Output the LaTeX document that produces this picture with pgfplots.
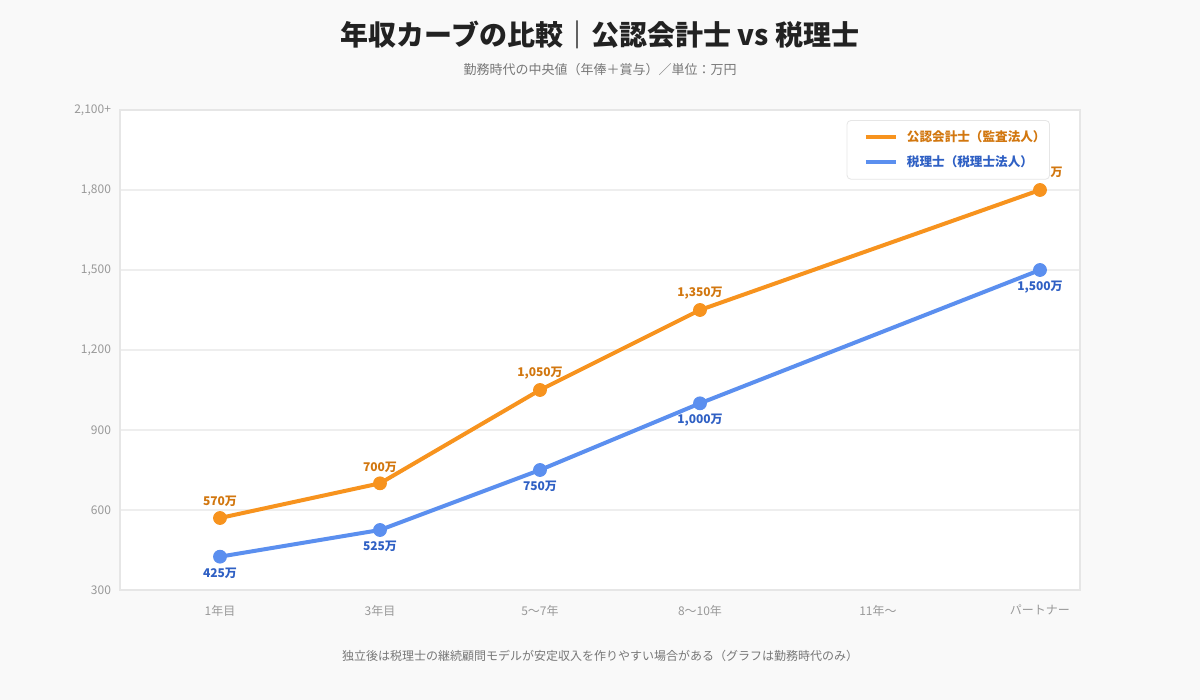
\documentclass[border=0pt]{standalone}
\usepackage{fontspec}
\setmainfont{Noto Sans CJK JP}
\usepackage{pgfplots}
\pgfplotsset{compat=1.18}

\definecolor{bgc}{HTML}{F9F9F9}
\definecolor{titlec}{HTML}{222222}
\definecolor{subc}{HTML}{777777}
\definecolor{tickc}{HTML}{999999}
\definecolor{gridc}{HTML}{EEEEEE}
\definecolor{framec}{HTML}{E6E6E6}
\definecolor{cpaline}{HTML}{F7931E}
\definecolor{cpatext}{HTML}{D2770F}
\definecolor{taxline}{HTML}{5B8FEF}
\definecolor{taxtext}{HTML}{2F60C4}

% x positions: 0=1年目, 1=3年目, 2=5〜7年, 3=8〜10年, 4.1125=11年〜, 5.125=パートナー
\pgfplotstableread{
x y
0 570
1 700
2 1050
3 1350
5.125 1800
}\cpadata
\pgfplotstableread{
x y
0 425
1 525
2 750
3 1000
5.125 1500
}\taxdata

\begin{document}
\begin{tikzpicture}
\fill[bgc] (0,0) rectangle (600pt,350pt);
\node[font=\bfseries\fontsize{14}{16}\selectfont, text=titlec] at (300pt,332.5pt)
  {年収カーブの比較｜公認会計士 vs 税理士};
\node[font=\fontsize{6.5}{8}\selectfont, text=subc] at (300pt,315pt)
  {勤務時代の中央値（年俸＋賞与）／単位：万円};
\node[font=\fontsize{6}{7}\selectfont, text=subc] at (300pt,22pt)
  {独立後は税理士の継続顧問モデルが安定収入を作りやすい場合がある（グラフは勤務時代のみ）};

\begin{axis}[
  at={(60pt,55pt)}, anchor=south west,
  scale only axis, width=480pt, height=240pt,
  xmin=-0.625, xmax=5.375, ymin=300, ymax=2100,
  axis background/.style={fill=white},
  xtick={0,1,2,3,4.1125,5.125},
  xticklabels={1年目,3年目,5〜7年,8〜10年,11年〜,パートナー},
  ytick={300,600,900,1200,1500,1800,2100},
  yticklabels={300,600,900,{1,200},{1,500},{1,800},{2,100+}},
  ymajorgrids, grid style={draw=gridc, line width=0.6pt},
  axis line style={draw=framec, line width=0.6pt},
  major tick length=0pt,
  tick label style={font=\fontsize{6}{7}\selectfont, text=tickc},
  xticklabel style={yshift=-4pt},
  yticklabel style={xshift=-1pt},
  /pgf/number format/assume math mode=true,
  /pgf/number format/1000 sep={,},
  legend style={
    at={(0.96875,0.979)}, anchor=north east,
    draw=framec, fill=white, rounded corners=2pt,
    font=\bfseries\fontsize{6.3}{8}\selectfont,
    inner xsep=0pt, inner ysep=3pt, row sep=1.5pt,
    cells={anchor=west},
  },
  legend image code/.code={
    \path (-8.5pt,0pt) (17.5pt,0pt);
    \draw[#1, mark=none, line width=2pt] (0pt,0pt) -- (15pt,0pt);},
  every node near coord/.append style={font=\bfseries\fontsize{6}{7}\selectfont},
  nodes near coords={\pgfmathprintnumber{\pgfplotspointmeta}万},
]
\addplot[cpaline, line width=2pt, mark=*, mark size=3.2pt,
  mark options={line width=0.5pt},
  every node near coord/.append style={text=cpatext, anchor=south, yshift=2pt}]
  table[x=x, y=y] {\cpadata};
\addlegendentry{\textcolor{cpatext}{公認会計士（監査法人）}}
\addplot[taxline, line width=2pt, mark=*, mark size=3.2pt,
  mark options={line width=0.5pt},
  every node near coord/.append style={text=taxtext, anchor=north, yshift=-2pt}]
  table[x=x, y=y] {\taxdata};
\addlegendentry{\textcolor{taxtext}{税理士（税理士法人）}}
\end{axis}
\end{tikzpicture}
\end{document}
